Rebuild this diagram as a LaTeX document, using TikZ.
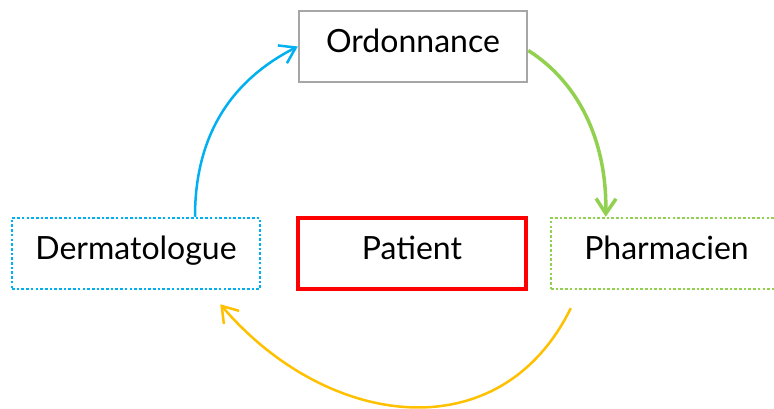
\documentclass[tikz,border=0pt]{standalone}
\usepackage{fontspec}
\setmainfont{Lato}
\usetikzlibrary{arrows.meta,calc}
\definecolor{cblue}{HTML}{00B0F0}
\definecolor{cgreen}{HTML}{92D050}
\definecolor{cyellow}{HTML}{FFC000}
\definecolor{cred}{HTML}{FF0000}
\definecolor{cgray}{HTML}{A6A6A6}
\tikzset{
  box/.style={rectangle, inner sep=0pt, minimum height=71pt, font=\fontsize{32}{38}\selectfont, text=black, text height=23pt, text depth=11.5pt},
  dotbox/.style={box, line width=2.5pt, dash pattern=on 2.6pt off 2.1pt},
  barb/.style={-{Straight Barb[length=15pt,width=20pt]}},
}
\begin{document}
\begin{tikzpicture}[x=1pt,y=-1pt]
\useasboundingbox (0,0) rectangle (774,409);
\clip (0,0) rectangle (774,409);
\node[box, draw=cgray, line width=2.5pt, minimum width=228pt] (ord) at (413,46.5) {Ordonnance};
\node[dotbox, draw=cblue, minimum width=248pt] (derm) at (136,253.5) {Dermatologue};
\node[box, draw=cred, line width=3.5pt, minimum width=228pt] (pat) at (412,253.5) {Patient};
\node[dotbox, draw=cgreen, minimum width=231pt] (pharm) at (666.5,253.5) {Pharmacien};
\draw[barb, cblue, line width=2.5pt] ([xshift=59pt]derm.north) .. controls (195,130) and (236,78) .. (ord.west);
\draw[barb, cgreen, line width=3.5pt] ([yshift=-4pt]ord.east) .. controls (578,82) and (607,140) .. ([xshift=56pt]pharm.north west);
\draw[barb, cyellow, line width=2.5pt] ([xshift=21pt,yshift=-18pt]pharm.south west) .. controls (500,452) and (327,429) .. ([xshift=-41pt,yshift=-14pt]derm.south east);
\end{tikzpicture}
\end{document}
